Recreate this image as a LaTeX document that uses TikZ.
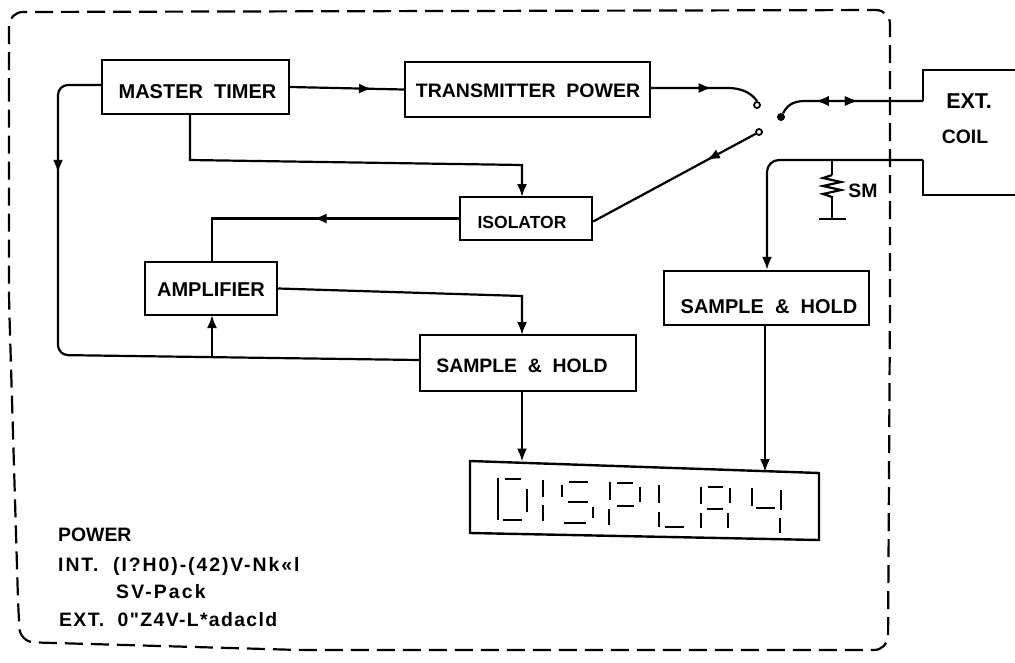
\documentclass[tikz,border=0pt]{standalone}
\usepackage{fontspec}
\setmainfont{Liberation Sans}
\newfontfamily\rawfont{Liberation Sans}
\usetikzlibrary{arrows.meta,decorations.markings,calc}
\newcommand{\placedtext}[3]{\makebox[0pt][c]{\raisebox{-#2pt}[0pt][0pt]{\hspace{#1pt}#3}}}
\tikzset{
  boxnode/.style={draw=black,line width=2.4pt,minimum width=#1,inner sep=0pt,font=\fontsize{20}{24}\bfseries\selectfont,fill=white},
  lbl/.style={inner sep=0pt,font=\fontsize{19.4}{24}\bfseries\selectfont,anchor=west},
  conn/.style={line width=2.2pt,draw=black},
  midarrow/.style={postaction={decorate},decoration={markings,mark=at position #1 with {\arrow{Latex[length=13pt,width=10pt]}}}},
  midback/.style={postaction={decorate},decoration={markings,mark=at position #1 with {\arrow{Latex[reversed,length=13pt,width=10pt]}}}},
  endarrow/.style={-{Latex[length=13pt,width=10pt]}},
  contact/.style={circle,draw=black,line width=1.8pt,fill=white,inner sep=0pt,minimum size=6pt},
  pole/.style={circle,fill=black,inner sep=0pt,minimum size=8pt},
  segment/.style={line width=2pt,draw=black},
  border/.style={line width=2.2pt,draw=black,dash pattern=on 18pt off 8pt,rounded corners=14pt}
}
\begin{document}
\begin{tikzpicture}[x=1pt,y=-1pt]
\useasboundingbox (0,0) rectangle (1015,662);
% outer dashed boundary
\draw[border] (9,110) -- (9,12) -- (890,10) -- (890,300) -- (888,650) -- (300,650) -- (20,642) -- (18,600) -- (9,300) -- cycle;
% blocks
\node[boxnode=187pt,minimum height=54pt] (mt) at (195.5,87) {\placedtext{4}{11}{MASTER\ \ TIMER}};
\node[boxnode=245pt,minimum height=55pt] (tp) at (527.5,89.5) {\placedtext{1}{7.5}{\fontsize{19.5}{24}\selectfont TRANSMITTER\ \ POWER}};
\node[boxnode=132pt,minimum height=43pt] (iso) at (526,218.5) {\placedtext{-8}{9.5}{\fontsize{17.5}{24}\selectfont ISOLATOR}};
\node[boxnode=132pt,minimum height=53pt] (amp) at (211,288.5) {\placedtext{0}{7.5}{AMPLIFIER}};
\node[boxnode=216pt,minimum height=56pt] (shl) at (528,363) {\placedtext{-12}{9}{\fontsize{19.4}{24}\selectfont SAMPLE\ \ \&\ \ HOLD}};
\node[boxnode=205pt,minimum height=54pt] (shr) at (766.5,298) {\placedtext{5}{15}{SAMPLE\ \ \&\ \ HOLD}};
% display
\coordinate (dtl) at (470,461);
\coordinate (dtr) at (819,473);
\coordinate (dbr) at (819,540);
\coordinate (dbl) at (470,533);
\draw[line width=2.4pt,line join=miter] (dtl) -- (dtr) -- (dbr) -- (dbl) -- cycle;
\begin{scope}[shift={(440,430)},x=0.3333pt,y=-0.3333pt]
\foreach \xa/\ya/\xb/\yb in {
 175/145/175/270, 195/148/243/148, 190/270/245/270, 260/178/260/245,
 308/150/308/200, 308/225/308/272,
 388/157/445/157, 365/165/365/200, 385/215/445/215, 458/230/458/265, 372/278/437/278,
 510/155/510/210, 530/160/580/160, 600/170/600/215, 532/228/582/228, 508/238/508/285,
 657/165/657/218, 657/245/657/290, 675/292/733/292,
 782/170/782/222, 805/172/850/172, 870/175/870/220, 800/237/848/237, 782/250/782/295, 865/250/865/295,
 935/175/935/228, 948/233/1005/233, 1023/180/1023/240, 1020/265/1020/308}
 \draw[segment] (\xa,\ya) -- (\xb,\yb);
\end{scope}
% switch
\node[contact] (c1) at (757,105) {};
\node[contact] (c2) at (759,132) {};
\node[pole] (p) at (781,117) {};
% junction and terminal points
\coordinate (ct1) at (1015,70);
\coordinate (ct2) at (923,70);
\coordinate (ct3) at (923,101);
\coordinate (cb1) at (1015,195);
\coordinate (cb2) at (923,195);
\coordinate (cb3) at (923,160);
\coordinate (cb4) at (767,160);
\coordinate (sm1) at (832,160);
\coordinate (sm2) at (832,175);
\coordinate (sm3) at (832,198);
\coordinate (gnd) at (832,219);
\coordinate (gl) at (819,219);
\coordinate (gr) at (846,219);
\coordinate (mtb) at (190,114);
\coordinate (mtc) at (190,160);
\coordinate (mtd) at (522,165);
\coordinate (isot) at (522,197);
\coordinate (lfa) at (58,85);
\coordinate (lfb) at (58,355);
\coordinate (shlw) at ($(shl.west)+(0,-3)$);
\coordinate (ampx) at (212,357);
% connectors
\draw[conn,midarrow=0.72] (mt.east) -- (tp.west);
\draw[conn,midarrow=0.55] ([yshift=1.5pt]tp.east) -- (728,88) .. controls (744,88) and (753,95) .. (c1.north);
\draw[conn,midarrow=0.3] (c2) -- ([yshift=-3pt]iso.east);
\draw[conn,midback=0.35,midarrow=0.55] (p) .. controls (787,106) and (792,101) .. (805,101) -- (ct3);
\draw[conn] (ct1) -- (ct2) -- (ct3);
\draw[conn] (cb1) -- (cb2) -- (cb3);
\draw[conn,rounded corners=12pt,endarrow] (cb3) -- (cb4) -- (cb4 |- shr.north);
\draw[conn] (sm1) -- (sm2);
\draw[line width=2.2pt] (sm2) -- ++(-9,3) -- ++(18,4) -- ++(-18,4) -- ++(18,4) -- ++(-18,4) -- ++(9,3) -- (sm3);
\draw[conn] (sm3) -- (gnd);
\draw[conn] (gl) -- (gr);
\draw[conn,endarrow] (mtb) -- (mtc) -- (mtd) -- (isot);
\draw[conn,midarrow=0.19,rounded corners=10pt] ([yshift=2pt]mt.west) -- (lfa) -- (lfb) -- (shlw);
\draw[conn,midarrow=0.5] (iso.west) -- (212,218.5) -- (212,262);
\draw[conn,endarrow] (ampx) -- (212,315);
\draw[conn,endarrow] (amp.east) -- (522,296) -- (522,335);
\draw[conn,endarrow] (522,391) -- (522,461.5);
\draw[conn,endarrow] (765,325) -- (765,472);
% free labels
\node[lbl,anchor=center] (ext) at (969,101) {\fontsize{21.5}{24}\selectfont EXT.};
\node[lbl,anchor=center] (coil) at (965,137) {COIL};
\node[lbl,anchor=center] (sm) at (863,191) {SM};
\node[lbl] (pw) at (58,535) {POWER};
\node[lbl] (int) at (58,566) {\addfontfeature{LetterSpace=10}INT.\ \ (I?H0)-(42)V-Nk«l};
\node[lbl] (sv) at (116,592) {\addfontfeature{LetterSpace=11}SV-Pack};
\node[lbl] (extp) at (59,620) {\rawfont\bfseries\addfontfeature{LetterSpace=7}EXT.\ \ 0"Z4V-L*adacld};
\end{tikzpicture}
\end{document}
